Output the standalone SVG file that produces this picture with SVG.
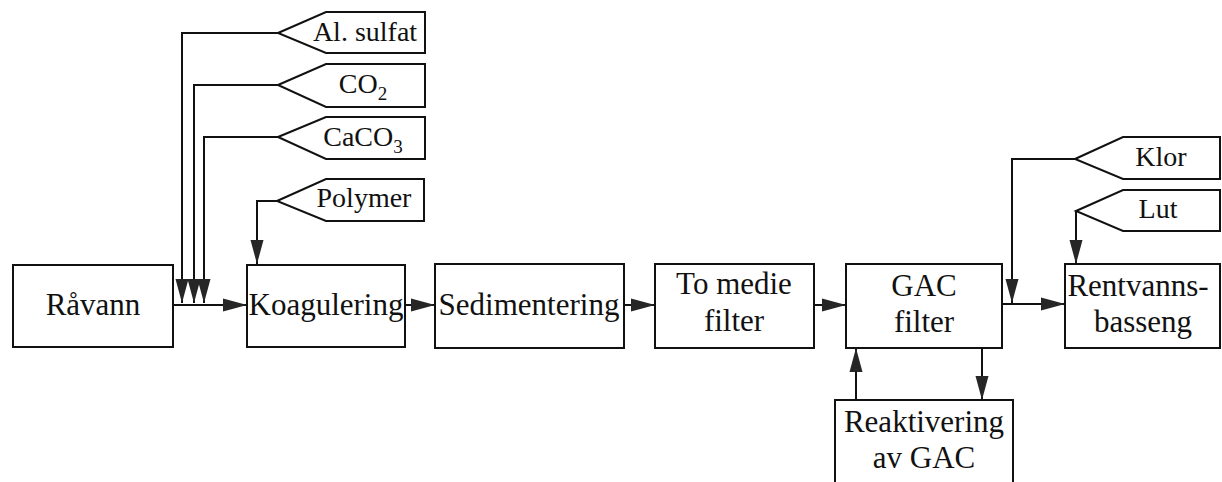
<svg xmlns="http://www.w3.org/2000/svg" width="1222" height="482" viewBox="0 0 1222 482">
<defs>
<marker id="ah" markerUnits="userSpaceOnUse" markerWidth="25" markerHeight="14" refX="24" refY="7" orient="auto">
<path d="M0,0.5 L24,7 L0,13.5 z" fill="#262626"/>
</marker>
<style>
.box{fill:#fff;stroke:#111;stroke-width:2}
.tag{fill:#fff;stroke:#111;stroke-width:2}
.ln{fill:none;stroke:#111;stroke-width:2;marker-end:url(#ah)}
</style>
</defs>
<rect width="1222" height="482" fill="#fff"/>
<g id="connectors">
<polyline class="ln" points="278,33 182,33 182,303"/>
<polyline class="ln" points="278,85 194,85 194,303"/>
<polyline class="ln" points="278,137 204,137 204,303"/>
<polyline class="ln" points="277,201 257,201 257,264"/>
<line class="ln" x1="173" y1="305" x2="247" y2="305"/>
<line class="ln" x1="405" y1="305" x2="435" y2="305"/>
<line class="ln" x1="624" y1="305" x2="655" y2="305"/>
<line class="ln" x1="814" y1="305" x2="846" y2="305"/>
<line class="ln" x1="1002" y1="304" x2="1065" y2="304"/>
<polyline class="ln" points="1075,159 1012,159 1012,303"/>
<polyline class="ln" points="1076,211 1076,264"/>
<line class="ln" x1="856" y1="400" x2="856" y2="348"/>
<line class="ln" x1="982" y1="348" x2="982" y2="400"/>
</g>
<g id="tag-alsulfat"><polygon class="tag" points="278,33 326,12 425,12 425,53 326,53"/><text x="365" y="41" font-family="Liberation Serif" font-size="28" text-anchor="middle" fill="#111">Al. sulfat</text></g>
<g id="tag-co2"><polygon class="tag" points="278,85 326,64 425,64 425,107 326,107"/><text x="363" y="93" font-family="Liberation Serif" font-size="28" text-anchor="middle" fill="#111">CO<tspan font-size="19" dy="7">2</tspan></text></g>
<g id="tag-caco3"><polygon class="tag" points="278,137 326,117 425,117 425,159 326,159"/><text x="363" y="146" font-family="Liberation Serif" font-size="28" text-anchor="middle" fill="#111">CaCO<tspan font-size="19" dy="7">3</tspan></text></g>
<g id="tag-polymer"><polygon class="tag" points="277,201 326,179 424,179 424,221 326,221"/><text x="364" y="207" font-family="Liberation Serif" font-size="28" text-anchor="middle" fill="#111">Polymer</text></g>
<g id="tag-klor"><polygon class="tag" points="1075,159 1123,137 1220,137 1220,179 1123,179"/><text x="1161" y="166" font-family="Liberation Serif" font-size="28" text-anchor="middle" fill="#111">Klor</text></g>
<g id="tag-lut"><polygon class="tag" points="1076,211 1123,190 1220,190 1220,231 1123,231"/><text x="1158" y="218" font-family="Liberation Serif" font-size="28" text-anchor="middle" fill="#111">Lut</text></g>
<g id="ravann"><rect class="box" x="13" y="265" width="160" height="82"/><text x="93" y="315" font-family="Liberation Serif" font-size="31" text-anchor="middle" fill="#111">Råvann</text></g>
<g id="koagulering"><rect class="box" x="247" y="265" width="158" height="82"/><text x="326" y="315" font-family="Liberation Serif" font-size="31" text-anchor="middle" fill="#111">Koagulering</text></g>
<g id="sedimentering"><rect class="box" x="435" y="264" width="189" height="84"/><text x="529" y="315" font-family="Liberation Serif" font-size="31" text-anchor="middle" fill="#111">Sedimentering</text></g>
<g id="tomedie"><rect class="box" x="655" y="264" width="159" height="84"/><text x="734" y="294" font-family="Liberation Serif" font-size="31" text-anchor="middle" fill="#111">To medie</text><text x="734" y="331" font-family="Liberation Serif" font-size="31" text-anchor="middle" fill="#111">filter</text></g>
<g id="gac"><rect class="box" x="846" y="264" width="156" height="84"/><text x="924" y="296" font-family="Liberation Serif" font-size="31" text-anchor="middle" fill="#111">GAC</text><text x="924" y="332" font-family="Liberation Serif" font-size="31" text-anchor="middle" fill="#111">filter</text></g>
<g id="rentvann"><rect class="box" x="1065" y="264" width="155" height="84"/><text x="1138" y="296" font-family="Liberation Serif" font-size="31" text-anchor="middle" fill="#111">Rentvanns-</text><text x="1143" y="332" font-family="Liberation Serif" font-size="31" text-anchor="middle" fill="#111">basseng</text></g>
<g id="reaktivering"><rect class="box" x="835" y="400" width="178" height="95"/><text x="924" y="432" font-family="Liberation Serif" font-size="31" text-anchor="middle" fill="#111">Reaktivering</text><text x="924" y="468" font-family="Liberation Serif" font-size="31" text-anchor="middle" fill="#111">av GAC</text></g>
</svg>
